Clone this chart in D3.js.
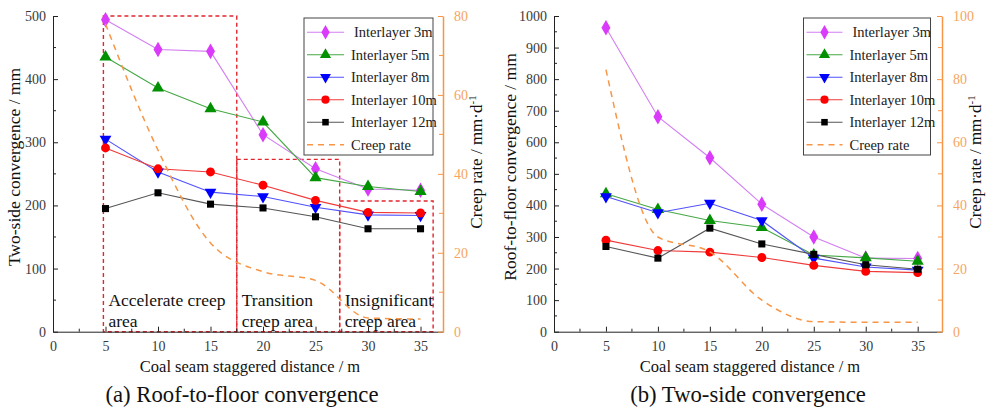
<!DOCTYPE html>
<html>
<head>
<meta charset="utf-8">
<script src="https://cdn.jsdelivr.net/npm/d3@7"></script>
<style>
  body { margin: 0; background: #fff; }
  svg, svg text { font-family: "Times New Roman", "Liberation Serif", "DejaVu Serif", serif; }
</style>
</head>
<body>
<svg id="chart" width="989" height="410"></svg>
<script>
// x values shared by both panels
const distances = [5, 10, 15, 20, 25, 30, 35];
const seriesNames = ["Interlayer 3m", "Interlayer 5m", "Interlayer 8m", "Interlayer 10m", "Interlayer 12m"];

// (a) panel values
const a3m = [494, 447, 444, 312, 258, 226, 224];
const a5m = [435, 386, 353, 332, 244, 230, 222];
const a8m = [305, 253, 221, 214, 197, 185, 184];
const a10m = [291, 258, 253, 232, 208, 189, 188];
const a12m = [195, 220, 202, 196, 182, 163, 163];
const aCreep = [78, 46, 22.5, 15.2, 13, 3.5, 3.2];

// (b) panel values
const b3m = [963, 681, 551, 404, 300, 233, 232];
const b5m = [437, 387, 352, 330, 243, 234, 223];
const b8m = [428, 377, 407, 352, 233, 205, 195];
const b10m = [290, 257, 252, 235, 210, 191, 187];
const b12m = [270, 233, 328, 278, 245, 212, 198];
const bCreep = [83, 30, 25.3, 10, 3.2, 3, 3];

// creep zones in panel (a): [x0, x1, top value], labels
const zones = [[4.8, 17.5, 500], [17.5, 27.3, 273], [27.3, 36.2, 207]];
const zoneLabels = [["Accelerate creep", "area"], ["Transition", "creep area"], ["Insignificant", "creep area"]];

const xTicks = [0, 5, 10, 15, 20, 25, 30, 35];

const FONT = '"Times New Roman", "Liberation Serif", "DejaVu Serif", serif';

const styles = [
  { marker: "#DA3AFA", line: "#D27EF2", symbol: d3.symbolDiamond, size: 70 },
  { marker: "#009000", line: "#45A845", symbol: d3.symbolTriangle, size: 64 },
  { marker: "#0000FF", line: "#5050FF", symbol: d3.symbolTriangle, size: 60, flip: true },
  { marker: "#FF0000", line: "#F03A3A", symbol: d3.symbolCircle, size: 62 },
  { marker: "#000000", line: "#555555", symbol: d3.symbolSquare, size: 50 }
];
const orange = "#F79646";
const orangeText = "#F5A55F";
const tickColor = "#3a3a3a";

const svg = d3.select("#chart").attr("font-family", FONT);

function drawPanel(p) {
  const g = svg.append("g").attr("font-family", FONT);
  const x = d3.scaleLinear().domain([0, p.xMax]).range([p.left, p.right]);
  const y = d3.scaleLinear().domain([0, p.yMax]).range([p.bottom, p.top]);
  const y2 = d3.scaleLinear().domain([0, p.y2Max]).range([p.bottom, p.top]);

  // zone rectangles (panel a only)
  if (p.zones) {
    p.zones.forEach((z, i) => {
      g.append("rect")
        .attr("x", x(z[0])).attr("y", y(z[2]))
        .attr("width", x(z[1]) - x(z[0])).attr("height", y(0) - y(z[2]))
        .attr("fill", "none").attr("stroke", "#E3262E")
        .attr("stroke-width", 1.4).attr("stroke-dasharray", "4,3");
      const t = g.append("text").attr("font-size", 17.5).attr("fill", "#111");
      t.append("tspan").attr("x", x(z[0]) + 5).attr("y", 306).text(zoneLabels[i][0]);
      t.append("tspan").attr("x", x(z[0]) + 5).attr("y", 327).text(zoneLabels[i][1]);
    });
  }

  // axes
  const xAxis = d3.axisBottom(x).tickValues(xTicks).tickSizeInner(-5).tickSizeOuter(0).tickPadding(9);
  const gx = g.append("g").attr("transform", `translate(0,${p.bottom})`).call(xAxis).attr("font-family", FONT);
  gx.selectAll(".tick text").attr("font-size", 14).attr("fill", tickColor);
  gx.selectAll("line").attr("stroke", "#222");
  gx.select(".domain").attr("stroke", "#222");
  const xMinor = d3.range(2.5, p.xMax, 5);
  g.selectAll(null).data(xMinor).enter().append("line")
    .attr("x1", d => x(d)).attr("x2", d => x(d))
    .attr("y1", p.bottom).attr("y2", p.bottom - 3).attr("stroke", "#222");

  const yAxis = d3.axisLeft(y).ticks(p.yMax / p.yStep).tickFormat(d3.format("d"))
    .tickSizeInner(-5).tickSizeOuter(0).tickPadding(7);
  const gy = g.append("g").attr("transform", `translate(${p.left},0)`).call(yAxis).attr("font-family", FONT);
  gy.selectAll(".tick text").attr("font-size", 14).attr("fill", tickColor);
  gy.selectAll("line").attr("stroke", "#222");
  gy.select(".domain").attr("stroke", "#222");
  g.selectAll(null).data(d3.range(p.yStep / 2, p.yMax, p.yStep)).enter().append("line")
    .attr("x1", p.left).attr("x2", p.left + 3)
    .attr("y1", d => y(d)).attr("y2", d => y(d)).attr("stroke", "#222");

  const y2Axis = d3.axisRight(y2).tickValues(d3.range(0, p.y2Max + 1, 20)).tickSizeInner(-5).tickSizeOuter(0).tickPadding(11);
  const gy2 = g.append("g").attr("transform", `translate(${p.right},0)`).call(y2Axis).attr("font-family", FONT);
  gy2.selectAll(".tick text").attr("font-size", 14).attr("fill", orangeText);
  gy2.selectAll("line").attr("stroke", orange);
  gy2.select(".domain").attr("stroke", orange).attr("stroke-width", 1.5);
  g.selectAll(null).data(d3.range(10, p.y2Max, 20)).enter().append("line")
    .attr("x1", p.right).attr("x2", p.right - 4)
    .attr("y1", d => y2(d)).attr("y2", d => y2(d)).attr("stroke", orange);

  // series
  const line = d3.line().x((d, i) => x(distances[i])).y(d => y(d));
  p.series.forEach((vals, k) => {
    const s = styles[k];
    g.append("path").datum(vals).attr("d", line)
      .attr("fill", "none").attr("stroke", s.line).attr("stroke-width", 1.1);
  });
  p.series.forEach((vals, k) => {
    const s = styles[k];
    g.selectAll(null).data(vals).enter().append("path")
      .attr("d", d3.symbol().type(s.symbol).size(s.size))
      .attr("transform", (d, i) => `translate(${x(distances[i])},${y(d)})` + (s.flip ? " rotate(180)" : ""))
      .attr("fill", s.marker);
  });

  // creep rate
  const creepLine = d3.line().x((d, i) => x(distances[i])).y(d => y2(d)).curve(d3.curveMonotoneX);
  g.append("path").datum(p.creep).attr("d", creepLine)
    .attr("fill", "none").attr("stroke", orange).attr("stroke-width", 1.5)
    .attr("stroke-dasharray", "6,5");

  // legend
  const lg = g.append("g");
  lg.append("rect").attr("x", p.legX).attr("y", 18).attr("width", p.legW).attr("height", 137)
    .attr("fill", "#fff").attr("stroke", "#444").attr("stroke-width", 1);
  const rows = seriesNames.concat(["Creep rate"]);
  rows.forEach((name, i) => {
    const ry = 32.2 + i * 22.5;
    const x0 = p.legX + 3, x1 = x0 + p.legLine;
    if (i < 5) {
      const s = styles[i];
      lg.append("line").attr("x1", x0).attr("x2", x1).attr("y1", ry).attr("y2", ry)
        .attr("stroke", s.line).attr("stroke-width", 1.1);
      lg.append("path").attr("d", d3.symbol().type(s.symbol).size(s.size * 0.85))
        .attr("transform", `translate(${(x0 + x1) / 2},${ry})` + (s.flip ? " rotate(180)" : ""))
        .attr("fill", s.marker);
    } else {
      lg.append("line").attr("x1", x0).attr("x2", x1).attr("y1", ry).attr("y2", ry)
        .attr("stroke", orange).attr("stroke-width", 1.5).attr("stroke-dasharray", "6,5");
    }
    lg.append("text").attr("x", x1 + (i === 0 ? 10 : 7)).attr("y", ry + 5)
      .attr("font-size", 14.5).attr("fill", "#222").text(name);
  });

  // titles
  g.append("text").attr("transform", `translate(${p.yTitleX},${167}) rotate(-90)`)
    .attr("text-anchor", "middle").attr("font-size", 17.5).attr("fill", "#111").text(p.yTitle);
  const t2 = g.append("text").attr("transform", `translate(${p.y2TitleX},${162}) rotate(-90)`)
    .attr("text-anchor", "middle").attr("font-size", 17).attr("fill", "#111");
  t2.append("tspan").text("Creep rate / mm·d");
  t2.append("tspan").attr("dy", -6).attr("font-size", 11).text("-1");
  g.append("text").attr("x", (p.left + p.right) / 2 + 2).attr("y", 372)
    .attr("text-anchor", "middle").attr("font-size", 16.5).attr("fill", "#111")
    .text("Coal seam staggered distance / m");
  g.append("text").attr("x", p.capX).attr("y", 402)
    .attr("text-anchor", "middle").attr("font-size", 22.7).attr("fill", "#111").text(p.caption);
}

drawPanel({
  left: 53, right: 443, top: 16, bottom: 331.7,
  xMax: 37.14, yMax: 500, yStep: 100, y2Max: 80,
  series: [a3m, a5m, a8m, a10m, a12m], creep: aCreep, zones: zones,
  legX: 304, legW: 129, legLine: 37,
  yTitle: "Two-side convergence / mm", yTitleX: 20, y2TitleX: 482,
  caption: "(a) Roof-to-floor convergence", capX: 242
});

drawPanel({
  left: 554, right: 942, top: 16, bottom: 331.7,
  xMax: 37.34, yMax: 1000, yStep: 100, y2Max: 100,
  series: [b3m, b5m, b8m, b10m, b12m], creep: bCreep, zones: null,
  legX: 803.5, legW: 127, legLine: 36,
  yTitle: "Roof-to-floor convergence / mm", yTitleX: 516, y2TitleX: 981,
  caption: "(b) Two-side convergence", capX: 748
});
</script>
</body>
</html>
